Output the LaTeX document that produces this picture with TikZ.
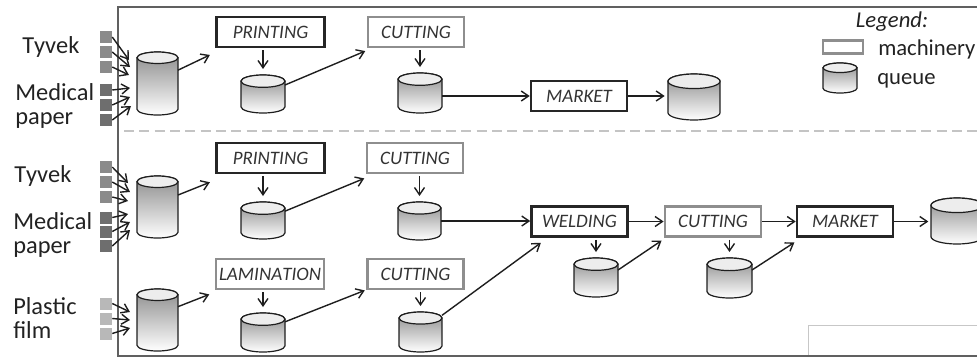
\documentclass[tikz,border=0pt]{standalone}
\usepackage{fontspec}
\setmainfont{Carlito}[Kerning=Off]
\usetikzlibrary{arrows.meta}
\definecolor{frameC}{HTML}{606060}
\definecolor{dashC}{HTML}{C4C4C4}
\definecolor{darkB}{HTML}{262626}
\definecolor{grayB}{HTML}{8E8E8E}
\definecolor{boxText}{HTML}{333333}
\definecolor{labC}{HTML}{222222}
\definecolor{lineC}{HTML}{1E1E1E}
\definecolor{cylTop}{HTML}{8C8C8C}
\definecolor{cylCap}{HTML}{EDEDED}
\definecolor{cylLine}{HTML}{1E1E1E}
\definecolor{tyC}{HTML}{8A8A8A}
\definecolor{mdC}{HTML}{6E6E6E}
\definecolor{plC}{HTML}{B8B8B8}
\newcommand{\qcyl}[5]{%
 \pgfmathsetmacro\qL{#2}%
 \pgfmathsetmacro\qR{#2+#4}%
 \pgfmathsetmacro\qRx{#4/2}%
 \pgfmathsetmacro\qRy{0.14*#4}%
 \pgfmathsetmacro\qCx{#2+#4/2}%
 \pgfmathsetmacro\qCy{#3+#5/2}%
 \pgfmathsetmacro\qTe{#3+0.14*#4}%
 \pgfmathsetmacro\qBe{#3+#5-0.14*#4}%
 \shade[top color=cylTop, bottom color=white, draw=cylLine, line width=0.9pt]
   (\qL,\qTe) -- (\qL,\qBe) arc[start angle=180,end angle=0,x radius=\qRx,y radius=\qRy]
   -- (\qR,\qTe) arc[start angle=0,end angle=-180,x radius=\qRx,y radius=\qRy] -- cycle;
 \filldraw[fill=cylCap, draw=cylLine, line width=0.9pt] (\qCx,\qTe) ellipse[x radius=\qRx, y radius=\qRy];
 \node[inner sep=0pt, outer sep=0pt, minimum width=#4*0.75pt, minimum height=#5*0.75pt] (#1) at (\qCx,\qCy) {};
}
\tikzset{
 lab/.style={font=\fontsize{18.3pt}{17.5pt}\selectfont, text=labC, inner sep=0pt},
 leg/.style={font=\fontsize{17pt}{18pt}\selectfont, text=labC, inner sep=0pt},
 mach/.style={rectangle, inner sep=0pt, minimum height=30*0.75pt, font=\fontsize{14.25pt}{16pt}\selectfont\itshape, text=boxText},
 darkbox/.style={mach, draw=darkB, line width=1.9pt},
 graybox/.style={mach, draw=grayB, line width=2.1pt},
 flow/.style={draw=lineC, line width=1.05pt, -{Straight Barb[length=5.5pt,width=7.5pt]}},
 down/.style={flow, shorten <=1.5pt, shorten >=4.5pt},
 sq/.style={rectangle, inner sep=0pt, minimum width=12*0.75pt, minimum height=12*0.75pt},
}
\begin{document}
\begin{tikzpicture}[x=0.75pt,y=-0.75pt]
\useasboundingbox (0,0) rectangle (977,358);
% frame and separator
\draw[frameC, line width=1.1pt] (118,7) rectangle (990,356);
\draw[dashC, line width=1.8pt, dash pattern=on 7.5pt off 4pt] (124,131) -- (977,131);
\draw[draw=black!22, fill=white, line width=0.6pt] (808,325) rectangle (990,356);
\draw[frameC, line width=1.1pt] (800,356) -- (990,356);

% ---------- top section ----------
\node[lab, anchor=base west] (ty1) at (22,53) {Tyvek};
\node[lab, anchor=base west, align=left] (md1) at (15,124) {Medical\\paper};
\node[sq, fill=tyC] (t1) at (106,37) {};
\node[sq, fill=tyC] (t2) at (106,52) {};
\node[sq, fill=tyC] (t3) at (106,67) {};
\node[sq, fill=mdC] (m1) at (106,90) {};
\node[sq, fill=mdC] (m2) at (106,105) {};
\node[sq, fill=mdC] (m3) at (106,120) {};

\qcyl{c1}{137}{52}{41}{63}
\qcyl{c2}{241}{75}{44}{38}
\qcyl{c3}{398}{73}{44}{40}
\qcyl{c4}{668}{74}{52}{46}

\node[darkbox, minimum width=108*0.75pt] (pr1) at (270.5,32) {PRINTING};
\node[graybox, minimum width=96*0.75pt] (cu1) at (416,32) {CUTTING};
\node[darkbox, minimum width=96*0.75pt] (mk1) at (579,96) {MARKET};

\coordinate (a1) at (129,60);
\coordinate (a2) at (130,67);
\coordinate (a3) at (129,75);
\coordinate (a4) at (130,88);
\coordinate (a5) at (130,97);
\coordinate (a6) at (131,106);
\draw[flow] (t1.east) -- (a1);
\draw[flow] (t2.east) -- (a2);
\draw[flow] (t3.east) -- (a3);
\draw[flow] (m1.east) -- (a4);
\draw[flow] (m2.east) -- (a5);
\draw[flow] (m3.east) -- (a6);

\draw[flow] ([yshift=10pt]c1.east) -- ([xshift=-4pt,yshift=-5pt]pr1.south west);
\draw[down] (c2.north |- pr1.south) -- (c2.north);
\draw[flow] ([yshift=6.75pt]c2.east) -- ([xshift=-1pt,yshift=-2pt]cu1.south west);
\draw[down] (c3.north |- cu1.south) -- (c3.north);
\draw[flow] (c3.east |- mk1.west) -- (mk1.west);
\draw[flow, shorten >=2.5pt] (mk1.east) -- (c4.west |- mk1.east);

% legend
\node[leg, font=\fontsize{17pt}{18pt}\selectfont\itshape, anchor=base] (lgt) at (892,27) {Legend:};
\node[graybox, minimum width=40*0.75pt, minimum height=13*0.75pt, line width=1.6pt] (lgbox) at (843,47) {};
\node[leg, anchor=base west] (lgm) at (878,55) {machinery};
\qcyl{lgc}{823}{63}{34}{30}
\node[leg, anchor=base west] (lgq) at (877,84) {queue};

% ---------- bottom section ----------
\node[lab, anchor=base west] (ty2) at (14,182) {Tyvek};
\node[lab, anchor=base west, align=left] (md2) at (13,253) {Medical\\paper};
\node[lab, anchor=base west, align=left] (pf) at (13,338) {Plastic\\film};
\node[sq, fill=tyC] (t4) at (106,167) {};
\node[sq, fill=tyC] (t5) at (106,182) {};
\node[sq, fill=tyC] (t6) at (106,197) {};
\node[sq, fill=mdC] (m4) at (106,217.5) {};
\node[sq, fill=mdC] (m5) at (106,231.5) {};
\node[sq, fill=mdC] (m6) at (106,246) {};
\node[sq, fill=plC] (p1) at (106,303.5) {};
\node[sq, fill=plC] (p2) at (106,318.5) {};
\node[sq, fill=plC] (p3) at (106,333.5) {};

\qcyl{b1}{137}{176}{41}{62}
\qcyl{b2}{241}{202}{44}{37}
\qcyl{b3}{398}{202}{43}{38}
\qcyl{b4}{574}{258}{44}{39}
\qcyl{b5}{707}{258}{45}{40}
\qcyl{b6}{931}{198}{52}{46}
\qcyl{b7}{137}{289}{41}{62}
\qcyl{b8}{241}{313}{44}{39}
\qcyl{b9}{399}{312}{43}{40}

\node[darkbox, minimum width=108*0.75pt] (pr2) at (270.5,158) {PRINTING};
\node[graybox, minimum width=96*0.75pt] (cu2) at (415,158) {CUTTING};
\node[graybox, minimum width=108*0.75pt] (lam) at (270,274) {LAMINATION};
\node[graybox, minimum width=96*0.75pt] (cu4) at (415.5,274) {CUTTING};
\node[darkbox, minimum width=96*0.75pt] (we) at (579.5,221.5) {WELDING};
\node[graybox, minimum width=96*0.75pt] (cu3) at (713,221.5) {CUTTING};
\node[darkbox, minimum width=96*0.75pt] (mk2) at (845,221.5) {MARKET};

\coordinate (e1) at (128,183);
\coordinate (e2) at (130,192);
\coordinate (e3) at (128,201);
\coordinate (e4) at (128,214);
\coordinate (e5) at (130,222);
\coordinate (e6) at (130,230);
\coordinate (f1) at (130,312);
\coordinate (f2) at (130,320);
\coordinate (f3) at (130,328);
\draw[flow] (t4.east) -- (e1);
\draw[flow] (t5.east) -- (e2);
\draw[flow] (t6.east) -- (e3);
\draw[flow] (m4.east) -- (e4);
\draw[flow] (m5.east) -- (e5);
\draw[flow] (m6.east) -- (e6);
\draw[flow] (p1.east) -- (f1);
\draw[flow] (p2.east) -- (f2);
\draw[flow] (p3.east) -- (f3);

\draw[flow] ([yshift=9pt]b1.east) -- ([xshift=-4pt,yshift=-6pt]pr2.south west);
\draw[down] (b2.north |- pr2.south) -- (b2.north);
\draw[flow] ([yshift=7pt]b2.east) -- ([xshift=-1pt,yshift=-3pt]cu2.south west);
\draw[down] (b3.north |- cu2.south) -- (b3.north);
\draw[flow] (b3.east) -- (b3.east -| we.west);
\draw[down] (b4.north |- we.south) -- (b4.north);
\draw[flow] ([yshift=5.6pt]b4.east) -- ([xshift=-1.5pt,yshift=-2pt]cu3.south west);
\draw[flow] (we.east) -- (cu3.west);
\draw[down] (b5.north |- cu3.south) -- (b5.north);
\draw[flow] ([yshift=6pt]b5.east) -- ([xshift=-1pt,yshift=-3.5pt]mk2.south west);
\draw[flow] (cu3.east) -- (mk2.west);
\draw[flow, shorten >=2pt] (mk2.east) -- (b6.west |- mk2.east);

\draw[flow] ([yshift=10pt]b7.east) -- ([xshift=-4pt,yshift=-3pt]lam.south west);
\draw[down] (b8.north |- lam.south) -- (b8.north);
\draw[flow] ([yshift=8pt]b8.east) -- ([xshift=-1pt]cu4.south west);
\draw[down] (b9.north |- cu4.south) -- (b9.north);
\draw[flow] ([yshift=12.5pt]b9.east) -- ([xshift=8pt,yshift=-3.75pt]we.south west);
\end{tikzpicture}
\end{document}
